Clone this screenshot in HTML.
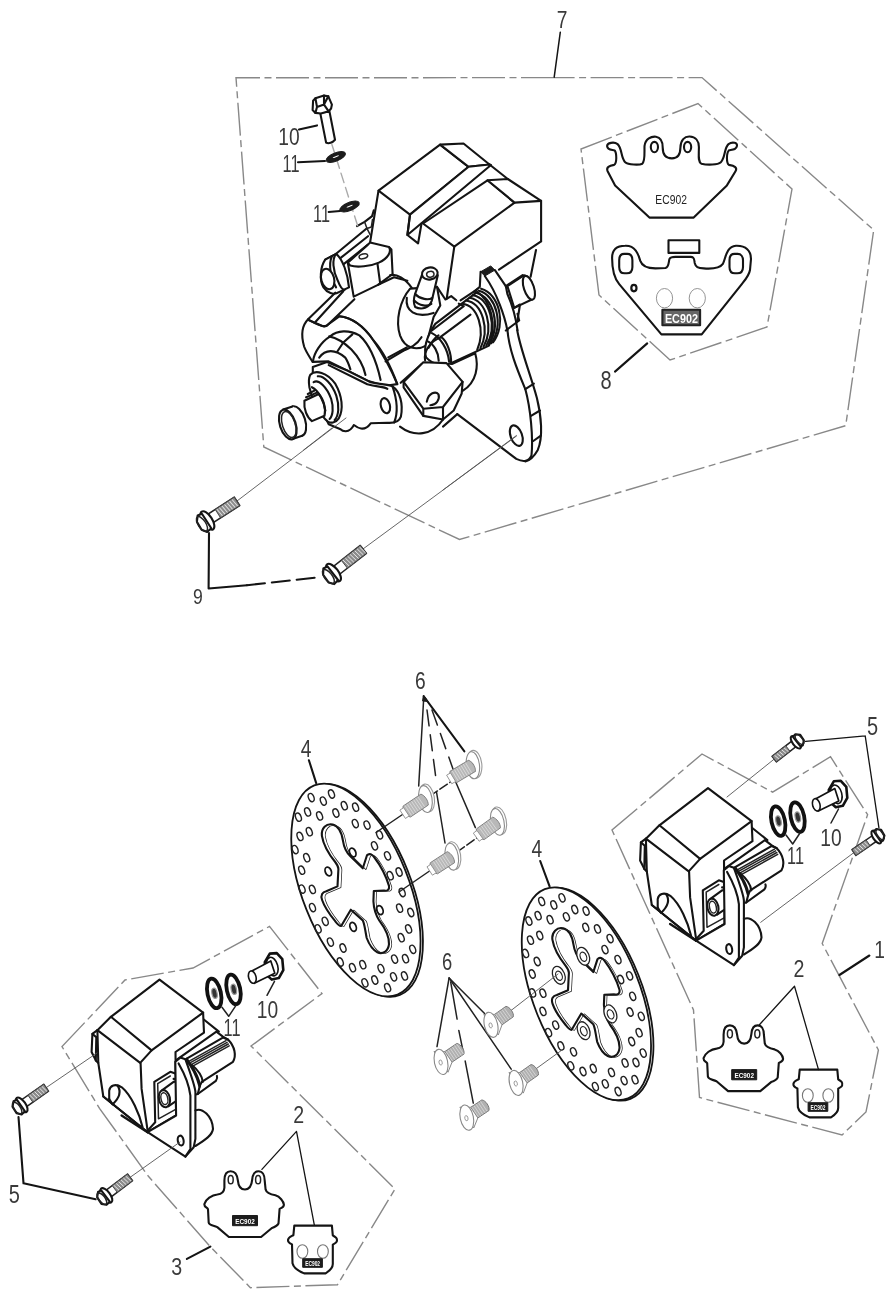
<!DOCTYPE html>
<html><head><meta charset="utf-8"><title>Brake caliper parts diagram</title>
<style>
html,body{margin:0;padding:0;background:#fff}
svg{display:block;filter:blur(0.55px)}
text{font-family:"Liberation Sans",sans-serif;fill:#333}
.n{fill:#3a3a3a}
.s{fill:#222}
.sw{fill:#fff;font-weight:bold}
.k{fill:none;stroke:#141414;stroke-width:2.1;stroke-linejoin:round;stroke-linecap:round}
.kw{fill:#fff;stroke:#141414;stroke-width:2.1;stroke-linejoin:round;stroke-linecap:round}
.m{fill:none;stroke:#222;stroke-width:1.5;stroke-linejoin:round;stroke-linecap:round}
.mw{fill:#fff;stroke:#222;stroke-width:1.5;stroke-linejoin:round;stroke-linecap:round}
.t{fill:none;stroke:#555;stroke-width:0.9;stroke-linejoin:round;stroke-linecap:round}
.tw{fill:#fff;stroke:#555;stroke-width:0.9;stroke-linejoin:round}
.g{fill:none;stroke:#888;stroke-width:0.9}
.gw{fill:#fff;stroke:#888;stroke-width:0.9}
.d{fill:none;stroke:#888;stroke-width:1.4;stroke-dasharray:33 4.5 7 4.5}
.d2{fill:none;stroke:#777;stroke-width:1.1;stroke-dasharray:12 5}
.b{fill:#1c1c1c;stroke:#1c1c1c;stroke-width:1;stroke-linejoin:round}
.w{fill:#fff;stroke:none}
.gr{fill:#999;stroke:none}
</style></head><body>
<svg width="894" height="1300" viewBox="0 0 894 1300">
<rect width="894" height="1300" fill="#fff"/>
<path class="d" d="M554 77.6 L236 77.8 L263.8 447 L459.5 539.5 L845.7 425.7 L873.7 230 L702 77.6 L554 77.6"/>
<path class="d" d="M581 149 L698 103.5 L792 189 L767 327 L670 360 L599 295 Z"/>
<path class="d" d="M62 1046.6 L125 980 L193 968 L269.5 926.4 L322 993.5 L251 1046 L395 1189 L337.5 1284.7 L250.4 1287.7 L210 1246.4 L148.4 1176.3 L99.5 1108.3 Z"/>
<path class="d" d="M612 830 L702 754 L772.6 792.2 L830.5 756.7 L867.6 814.7 L822.2 943.5 L878.4 1050 L866 1112 L842 1135 L699.5 1097.5 L693.5 1010 Z"/>
<text class="n" transform="translate(562 28.2) scale(0.8 1)" font-size="24" text-anchor="middle">7</text>
<text class="n" transform="translate(606 389) scale(0.8 1)" font-size="25" text-anchor="middle">8</text>
<text class="n" transform="translate(198 604) scale(0.8 1)" font-size="22" text-anchor="middle">9</text>
<text class="n" transform="translate(289 144.5) scale(0.8 1)" font-size="24" text-anchor="middle">10</text>
<text class="n" transform="translate(291 172) scale(0.68 1)" font-size="24" text-anchor="middle">11</text>
<text class="n" transform="translate(321.5 222) scale(0.68 1)" font-size="24" text-anchor="middle">11</text>
<text class="n" transform="translate(306 757) scale(0.8 1)" font-size="24" text-anchor="middle">4</text>
<text class="n" transform="translate(536.8 857) scale(0.8 1)" font-size="24" text-anchor="middle">4</text>
<text class="n" transform="translate(420.4 688.8) scale(0.8 1)" font-size="24" text-anchor="middle">6</text>
<text class="n" transform="translate(447.1 969.9) scale(0.8 1)" font-size="23" text-anchor="middle">6</text>
<text class="n" transform="translate(872.5 734.5) scale(0.8 1)" font-size="25" text-anchor="middle">5</text>
<text class="n" transform="translate(14.3 1202.6) scale(0.8 1)" font-size="25" text-anchor="middle">5</text>
<text class="n" transform="translate(879.5 957.7) scale(0.8 1)" font-size="24" text-anchor="middle">1</text>
<text class="n" transform="translate(799 976.5) scale(0.8 1)" font-size="24.5" text-anchor="middle">2</text>
<text class="n" transform="translate(298.8 1122.5) scale(0.8 1)" font-size="24.5" text-anchor="middle">2</text>
<text class="n" transform="translate(176.8 1274.6) scale(0.8 1)" font-size="24.5" text-anchor="middle">3</text>
<text class="n" transform="translate(831 845.5) scale(0.8 1)" font-size="24" text-anchor="middle">10</text>
<text class="n" transform="translate(795.5 864) scale(0.68 1)" font-size="24" text-anchor="middle">11</text>
<text class="n" transform="translate(267.5 1017.6) scale(0.8 1)" font-size="24" text-anchor="middle">10</text>
<text class="n" transform="translate(232 1035.5) scale(0.68 1)" font-size="24" text-anchor="middle">11</text>
<path class="k" d="M560.3 32.2 L554.2 77.2" style="stroke-width:1.5"/>
<path class="kw" d="M378.5 190.7 L440.1 144.6 L468.6 166.8 L410 214.6 Z"/>
<path class="kw" d="M440.1 144.6 L463.5 143.5 L489.5 164.5 L468.6 166.8 Z"/>
<path class="kw" d="M410 214.6 L468.6 166.8 L489.5 164.5 L491 165 L407.4 235 Z"/>
<path class="k" d="M410 214.6 L407.4 235 L418.1 243.4 L421.5 223.6"/>
<path class="kw" d="M423 223.5 L487.5 180.3 L514.6 202.6 L454.3 246.6 Z"/>
<path class="kw" d="M487.5 180.3 L507.8 179 L541.1 200.9 L514.6 202.6 Z"/>
<path class="k" d="M489.5 164.5 L507.8 179"/>
<path class="k" d="M541.1 200.9 L541.1 241.3"/>
<path class="k" d="M378.5 190.7 L370.1 242.4"/>
<path class="k" d="M325.2 259.7 L336.1 253.8 L366.3 228.7"/>
<path class="k" d="M339.4 258.9 L368 236.2"/>
<path class="k" d="M344 263.9 L368 244.6"/>
<path class="k" d="M357 226.1 L364.6 221.9 L372.1 216.1 L373.8 210.2"/>
<path class="m" d="M364.6 221.9 L367.1 228.7 L370.5 235.4 M366.3 228.7 L371.3 227 L372.5 219.4"/>
<path class="kw" d="M325.2 259.7 L336.1 253.8 C342.8 258.9 347.8 274 349 287.4 L338.9 292.1 C333.6 295.8 326.8 292.4 323.5 287.4 C319.3 280.7 320.1 267.2 325.2 259.7 Z"/>
<path class="k" d="M336.1 253.8 C331.9 258.9 332.7 270.6 337.8 280.7 C340.3 287.4 341.9 289.9 344.5 289.9"/>
<path class="k" d="M331.9 256.3 C328.5 263.9 330.2 277.3 336.1 287.4"/>
<ellipse class="kw" cx="327.7" cy="279" rx="6.4" ry="10.4" transform="rotate(-15 327.7 279)"/>
<path class="kw" d="M347.8 262.6 L353.7 296.6 L378 284.9 L392.6 274 L391.4 249.6 L388.9 247.1 Z"/>
<path class="kw" d="M347.8 262.6 L368 244.6 L370.1 242.4 L388.9 247.1 C391.9 251.3 388.1 258.5 378.9 262.6 C370.5 266.4 357 267.6 350.3 265.6 Z"/>
<path class="k" d="M377.5 263.9 L380.2 283.7"/>
<ellipse class="m" cx="363.4" cy="256.3" rx="4.4" ry="2.3" transform="rotate(-15 363.4 256.3)"/>
<path class="k" d="M378 284.9 L394 277.3 L407.4 280.7"/>
<path class="k" d="M308.1 319.3 L335.3 292.7"/>
<path class="k" d="M315.6 321.8 L343.3 291.3"/>
<path class="kw" d="M308.1 319.3 C303.1 324.4 300 332.4 304.1 346.5 C306.1 352.2 310.1 357.6 312.6 361.9 L328.6 361.4 L350.4 372.3 L367.1 380.7 L385.6 385.8 L397.3 384.1 C392.3 370.7 385.6 353.9 373.5 340.5 C365.5 328.7 353.7 317.8 339.3 316.3 L328.2 324.4 C326.9 326.2 324.4 326.5 321.8 325.7 L309.1 320.3 Z"/>
<path class="k" d="M309.1 320.1 C315.1 323.4 320.2 325.9 324.2 326.4 C326.2 326.4 327.2 325.4 328.2 324.4 L354.4 299.2"/>
<path class="k" d="M339.3 316.3 C353.7 317.8 365.5 328.7 373.5 340.5 C383.9 355.6 392.3 372.3 397.3 384.1"/>
<path class="k" d="M313.1 360.6 C314.1 353.6 320.2 342.5 330.2 336.4 C337.3 330.4 348.4 329.4 359.4 335.4 C368.8 343.8 375.5 357.2 380.6 379.9"/>
<path class="k" d="M329.2 336.4 C337.3 338 343.7 342.1 351.4 349.5 C358.8 357.2 363.8 367.3 365.5 374.9"/>
<path class="k" d="M319.2 357.6 C325.2 348.9 335.3 348.9 345.3 357.6 C347.9 361.4 349.5 366.5 350.4 369.3"/>
<path class="k" d="M343.3 342.5 L352.4 334.4 M343.3 342.5 L337.3 351.5"/>
<path class="k" d="M385.6 361.4 L406.6 348.9 M400.7 382.8 L421.7 364"/>
<path class="kw" d="M312.8 367.1 L327 362.1 L347.2 370.5 L370.7 382.2 C379.1 384.7 387.4 383.6 392.5 386.4 C400 391.4 403.4 404 400.9 416.6 C399.2 421.6 395 423.3 387.4 422.8 L370.7 423.3 C364 432.6 357.2 427.5 353.9 425 C348.9 434.2 342.1 430.9 340.5 429.2 L328.7 424.2 C320.3 407.4 311.9 387.2 312.8 367.1 Z"/>
<path class="k" d="M328.7 365.1 L367.3 384.2 C377.4 387.2 384.1 386.4 387.4 388.9"/>
<path class="k" d="M392.5 386.4 C397.5 400.7 397.5 414.1 394.2 422.5"/>
<ellipse class="k" cx="385.4" cy="405.7" rx="4.5" ry="7.7" transform="rotate(-15 385.4 405.7)"/>
<path class="kw" d="M310.3 374.7 C315.3 369.6 327 372.1 335.4 383.9 C342.1 395.6 343.8 409.1 338.8 418.3 C335.4 423.3 330.4 423.3 327.9 421.6 C320.3 415.8 311.9 400.7 309.4 387.2 C308.6 382.2 308.9 377.2 310.3 374.7 Z"/>
<path class="k" d="M317.8 376.3 C323.7 375.5 332.1 383.9 336.3 395.6 C339.6 405.7 338.8 415.8 334.6 420"/>
<path class="k" d="M313.6 382.2 C318.7 378.9 327 387.2 331.2 399 C333.8 407.4 332.9 415.8 329.6 419.1"/>
<path class="kw" d="M304.4 400.7 L318.7 394 C323.7 399 326.2 409.1 324.5 415.8 L311.9 421.1 C306.9 417.4 303.6 409.1 304.4 400.7 Z"/>
<path class="k" d="M311.9 387.2 C318.7 390.6 323.7 400.7 325.4 410.7"/>
<path class="k" d="M307.8 394 L314.5 390.6 M306.1 397.3 C310.3 395.6 313.6 394 317 392.6"/>
<ellipse class="kw" cx="297.3" cy="421.1" rx="7.9" ry="15.4" transform="rotate(-18 297.3 421.1)"/>
<path class="w" d="M284.3 409.9 L293.5 406.5 L301.9 435.9 L292.7 438.9 Z"/>
<path class="k" d="M283.1 409.4 L292.5 406.4 M292.5 438.9 L302.2 435.7"/>
<ellipse class="kw" cx="287.8" cy="424.5" rx="7.9" ry="15.4" transform="rotate(-18 287.8 424.5)"/>
<ellipse class="m" cx="288.8" cy="424.5" rx="6.4" ry="13.4" transform="rotate(-18 288.8 424.5)"/>
<path class="t" d="M332.1 427.9 L303.6 450"/>
<path class="k" d="M454.3 246.6 L446.7 298.7"/>
<path class="k" d="M437 286.9 L445.4 299.5 L451.2 296.1 L456.3 300.3"/>
<path class="kw" d="M410.1 288.6 C400.1 300.3 395 320.5 400.1 335.6 C405.1 349 416.8 350.7 426.1 345.6 L433.6 317.1 L440.3 305.4 L437 286.9 Z"/>
<path class="k" d="M406.8 297.8 C405.1 310.4 415.2 318.8 433.6 312.9"/>
<path class="k" d="M390 275.2 C396.7 273.5 405.1 278.5 411.8 287.8 M388.3 357.4 L406.8 347.3"/>
<path class="kw" d="M421.9 275.2 L415.2 293.6 C413.5 298.7 413.5 303.7 415.2 307 C421.9 310.4 429.4 307.9 431.9 300.3 L437.8 275.2 Z"/>
<ellipse class="kw" cx="429.8" cy="273.5" rx="7.9" ry="6" transform="rotate(-10 429.8 273.5)"/>
<ellipse class="m" cx="430.3" cy="274.3" rx="3.7" ry="2.9" transform="rotate(-10 430.3 274.3)"/>
<path class="k" d="M415.2 294 C420.2 299.5 428.6 300.3 432.3 297.8 M414 300.3 C419.4 306.2 427.8 306.7 431.4 304"/>
<path class="kw" d="M435.3 323.8 L477.2 291.9 C490.7 300.3 497.4 325.5 489 345.6 L452.1 362.8 C445.4 365.8 433.6 365.8 426.1 357.4 C423.6 349 426.1 337.2 435.3 323.8 Z"/>
<path class="k" d="M431.9 330.5 L463.8 306.2 M440.3 337.2 L470.5 314.6"/>
<path class="k" d="M431.9 333.1 C440.3 337.2 447.9 349 449.1 361.6"/>
<path class="k" d="M427.8 341.4 C433.6 344 438.7 352.3 438.7 360.7"/>
<path class="k" d="M462.1 303.7 C478.1 305.4 485.6 330.5 477.2 349.8"/>
<path class="k" d="M466 300.5 C482.4 302.9 490 329.2 480.4 348.2"/>
<path class="k" d="M469.7 297.8 C486.5 300.7 494 328 483.5 346.8"/>
<path class="k" d="M472.9 295.1 C490.2 298.7 497.7 326.8 486.3 345.5"/>
<path class="k" d="M475.9 292.8 C493.5 296.8 501.1 325.8 488.8 344.3"/>
<path class="k" d="M478.8 290.8 C496.5 295.1 504.1 325 491 343.3"/>
<path class="k" d="M481.1 288.8 C499.2 293.6 506.8 324.2 493 342.3"/>
<path class="k" d="M460.5 300.3 L477.2 289.4 M458.8 303.7 L462.1 305.4"/>
<path class="b" d="M480.6 271.8 L490.7 265.9 L494.9 270.1 L484.8 276 Z"/>
<path class="k" d="M480.6 271.8 L479.8 286.9 L473.9 291.9"/>
<path class="k" d="M484.8 276 C497.4 293.6 504.9 317.1 507.4 330.5"/>
<path class="k" d="M494.9 270.1 L505.8 286.1 L507.4 294 C512.5 305.4 515.8 317.1 517.5 330.2"/>
<path class="k" d="M505.8 330.5 L519.2 320.5 L517.5 313.8"/>
<path class="kw" d="M507.4 286.1 L524.2 275.2 C532.6 276.8 536 293.6 531.8 299.5 L514.2 307.9 Z"/>
<ellipse class="kw" cx="528.9" cy="287.8" rx="5" ry="12.4" transform="rotate(-18 528.9 287.8)"/>
<path class="k" d="M505.8 286.1 L522.6 275.2"/>
<path class="k" d="M514.2 307.9 L520 304.5 L517.5 320.5"/>
<path class="k" d="M536 250 L530.6 276.8"/>
<path class="k" d="M541.1 241.3 L499 269.6"/>
<path class="k" d="M507.4 330 C509.2 349.7 516.3 367.6 525.3 389.1 C530.6 408.7 533.3 437.4 531.5 455.3 C528.9 461.5 523.5 462.4 516.3 458.9 L457.3 414.1"/>
<path class="k" d="M517.2 330 C519.9 347.9 530.6 374.7 536.9 398 C541.4 415.9 543.2 437.4 537.8 449.9 C534.2 456.2 528.9 460.6 525.3 461.5"/>
<path class="k" d="M525.3 389.1 L533.9 383.7 M531 415.9 L540 410.5 M533.3 441 L540.9 435.6"/>
<ellipse class="k" cx="516.3" cy="435.6" rx="5.7" ry="10.7" transform="rotate(-20 516.3 435.6)"/>
<path class="t" d="M516.3 435.6 L443 490"/>
<path class="kw" d="M403.6 381.9 L423.3 362.2 L446.5 363.1 L462.6 381.9 L461.7 393.5 L453.7 410.5 L443 419.5 L423.3 415.9 L403.6 387.3 Z"/>
<path class="k" d="M403.6 381.9 L423.3 408.7 L443 407 L462.6 381.9 M443 407 L443 419.5 M423.3 408.7 L423.3 415.9"/>
<path class="k" d="M426.8 401.6 C428.6 392.6 435.8 390.9 438.5 394.4 C440.3 399.8 435.8 405.2 430.4 405.2"/>
<path class="k" d="M451.9 364 L475.2 353.3 C478.7 365.8 477 381.9 462.6 390.9"/>
<path class="k" d="M425.1 360.4 C423.3 351.5 430.4 340.7 441.2 337.2 C446.5 340.7 451.9 353.3 451 364"/>
<path class="k" d="M400 426.6 C414.3 437.4 432.2 435.6 443 419.5 M457.3 414.1 L443 426.6"/>
<path class="k" d="M400 351.5 C407.2 349.7 416.1 346.1 421.5 337.2 M428.6 347.9 C432.2 340.7 435.8 337.2 438.5 335.4"/>
<path class="t" d="M237 501 L346 418"/>
<path class="t" d="M363 549 L516.5 436"/>
<g transform="translate(202.4 523.7) rotate(-32.9)"><path class="mw" d="M7 -5 L41.2 -5 L41.2 5 L7 5 Z"/><path d="M18.5 -5 L41.2 -5 L41.2 5 L18.5 5 Z" fill="#8c8c8c" stroke="#444" stroke-width="0.9"/><path d="M20 -4.2 L21.2 4.2" stroke="#e8e8e8" stroke-width="0.9" fill="none"/><path d="M23 -4.2 L24.2 4.2" stroke="#e8e8e8" stroke-width="0.9" fill="none"/><path d="M26 -4.2 L27.2 4.2" stroke="#e8e8e8" stroke-width="0.9" fill="none"/><path d="M29 -4.2 L30.2 4.2" stroke="#e8e8e8" stroke-width="0.9" fill="none"/><path d="M32 -4.2 L33.2 4.2" stroke="#e8e8e8" stroke-width="0.9" fill="none"/><path d="M35 -4.2 L36.2 4.2" stroke="#e8e8e8" stroke-width="0.9" fill="none"/><path d="M38 -4.2 L39.2 4.2" stroke="#e8e8e8" stroke-width="0.9" fill="none"/><ellipse class="kw" cx="6" cy="0" rx="4.7" ry="10.5"/><path class="kw" d="M5 -8.6 L0.5 -9.5 L-3.5 -4.7 L-4 4.7 L-0.5 9.5 L5 8.6 Z"/><ellipse class="m" cx="-0.5" cy="0" rx="3.8" ry="8.4"/></g>
<g transform="translate(328.8 576.3) rotate(-37.9)"><path class="mw" d="M7 -5 L43.8 -5 L43.8 5 L7 5 Z"/><path d="M19.7 -5 L43.8 -5 L43.8 5 L19.7 5 Z" fill="#8c8c8c" stroke="#444" stroke-width="0.9"/><path d="M21.2 -4.2 L22.4 4.2" stroke="#e8e8e8" stroke-width="0.9" fill="none"/><path d="M24.2 -4.2 L25.4 4.2" stroke="#e8e8e8" stroke-width="0.9" fill="none"/><path d="M27.2 -4.2 L28.4 4.2" stroke="#e8e8e8" stroke-width="0.9" fill="none"/><path d="M30.2 -4.2 L31.4 4.2" stroke="#e8e8e8" stroke-width="0.9" fill="none"/><path d="M33.2 -4.2 L34.4 4.2" stroke="#e8e8e8" stroke-width="0.9" fill="none"/><path d="M36.2 -4.2 L37.4 4.2" stroke="#e8e8e8" stroke-width="0.9" fill="none"/><path d="M39.2 -4.2 L40.4 4.2" stroke="#e8e8e8" stroke-width="0.9" fill="none"/><path d="M42.2 -4.2 L43.4 4.2" stroke="#e8e8e8" stroke-width="0.9" fill="none"/><ellipse class="kw" cx="6" cy="0" rx="4.7" ry="10.5"/><path class="kw" d="M5 -8.6 L0.5 -9.5 L-3.5 -4.7 L-4 4.7 L-0.5 9.5 L5 8.6 Z"/><ellipse class="m" cx="-0.5" cy="0" rx="3.8" ry="8.4"/></g>
<path class="k" d="M209 533 L208.6 588.5 L247 585.2"/>
<path class="k" d="M247 585.2 L321 577" style="stroke-dasharray:18 7"/>
<path class="t" d="M331.9 144.5 L357.7 225.9" style="stroke-dasharray:10 5;stroke:#aaa;stroke-width:1.4"/>
<path class="kw" d="M320.1 112.4 L326.1 142.6 C328.7 144.2 332.6 142.6 335 139.8 L329.5 111.6 Z"/>
<path class="kw" d="M313.1 100.7 L315.4 98.3 L324 95.6 L328.3 96.3 L331.9 104.6 L331.1 108.5 L328.7 111.3 L320.9 113.5 L315.4 112.9 L312.6 110.1 Z"/>
<path class="k" d="M315.4 98.3 L317 106.9 L315.4 112.9 M317 106.9 L324 104.6 L328.7 111.3 M324 95.6 L324 104.6 M328.3 96.3 L324 104.6"/>
<ellipse class="b" cx="335.8" cy="157" rx="10.3" ry="4.1" transform="rotate(-22 335.8 157)"/>
<ellipse class="w" cx="335.8" cy="156.7" rx="3.4" ry="0.5" transform="rotate(-22 335.8 156.7)"/>
<ellipse class="b" cx="349.6" cy="206.5" rx="10.3" ry="4.1" transform="rotate(-22 349.6 206.5)"/>
<ellipse class="w" cx="349.6" cy="206.2" rx="3.4" ry="0.5" transform="rotate(-22 349.6 206.2)"/>
<path class="k" d="M299 129.6 L317 125.4"/>
<path class="k" d="M298 162.3 L325 161"/>
<path class="k" d="M328.7 212 L340 211"/>
<path class="k" d="M607.5 170.9 C606.1 167.3 609.1 165.9 614.1 164.9 C617.1 163.3 616.7 153.2 614.7 150.4 C611.1 149.6 607.5 150.2 607.1 146.1 C607.1 142.7 614.1 141.5 617.6 144.1 C622.2 148.2 620.8 158.2 625.2 162.2 C628.2 164.9 639.3 165.3 642.3 163.7 C645.3 161.2 644.3 153.2 644.5 146.1 C645.3 138.7 651.4 136.1 656 136.7 C661.4 137.5 662.7 143.1 662.7 147.6 C662.7 155.2 666.5 158.4 671.9 158.4 C677.6 158.4 680.4 155.2 680.4 147.6 C680.6 140.1 684.6 136.3 689.6 136.5 C695.7 136.7 698.9 141.1 698.9 147.1 C698.9 155.2 697.7 161.6 701.3 163.7 C707.8 165.3 717.8 164.9 720.8 162.2 C725.5 157.6 723.9 148.2 728.5 144.1 C732.3 141.5 738 142.7 736.9 146.1 C736.3 149.6 732.9 149.6 728.9 150.4 C726.3 153.2 726.3 163.3 728.9 164.9 C734.9 165.9 737.6 167.7 735.5 171.3 L726.9 185.4 L693.7 217.6 L649.4 217.6 L615.1 185.4 Z"/>
<ellipse class="k" cx="654.4" cy="147.1" rx="3.6" ry="5.2"/>
<ellipse class="k" cx="687.6" cy="147.1" rx="3.6" ry="5.2"/>
<text class="s" transform="translate(671.1 203.5) scale(0.86 1)" font-size="12" text-anchor="middle">EC902</text>
<path class="k" d="M612.1 257.9 C612.1 249.8 617.1 245.8 625.2 245.8 C635.3 245.4 638.3 253.9 640.3 260.9 C642.3 266.9 647.3 268.4 655.4 268.4 L665.5 268 C669.1 266.9 668.5 261.9 669.5 258.9 C670.5 256.9 672.5 256.9 675.5 256.9 L690.6 256.9 C694.7 256.9 694.1 259.9 694.7 262.9 C695.7 266.9 697.7 268.4 703.7 268.4 C711.8 269 719.8 268.4 722.9 263.9 C725.9 257.9 725.9 246.8 735.9 245.8 C746 245.4 751 250.8 751 258.9 L750 270 C749 276 745 280 741 285.1 L701.7 334.4 L661.4 334.4 L619.2 284.1 C614.1 278 612.1 270 612.1 257.9 Z"/>
<path class="k" d="M624.2 253.9 L627.2 253.9 C630.8 253.9 632.4 256.9 632.4 260.3 L632.4 266.9 C632.4 271 630.2 273.2 626.8 273.2 L624.6 273.2 C621.2 273.2 619.2 271 619.2 266.9 L619.2 260.3 C619.2 256.9 620.8 253.9 624.2 253.9 Z"/>
<path class="k" d="M734.5 253.9 L737.6 253.9 C741.2 253.9 743 256.9 743 260.3 L743 266.9 C743 271 740.8 273.2 737.3 273.2 L734.9 273.2 C731.5 273.2 729.5 271 729.5 266.9 L729.5 260.3 C729.5 256.9 731.1 253.9 734.5 253.9 Z"/>
<path class="k" d="M668.5 240.2 L699.3 240.2 L699.3 252.9 L668.5 252.9 Z"/>
<ellipse class="k" cx="633.9" cy="288.1" rx="2.6" ry="3.2" style="stroke-width:2.2"/>
<ellipse class="g" cx="664.5" cy="298.2" rx="8.1" ry="9.7"/>
<ellipse class="g" cx="697.3" cy="298.2" rx="8.1" ry="9.7"/>
<path class="k" d="M662.4 309.8 L700.1 309.8 L700.1 325.3 L662.4 325.3 Z" style="fill:#666;stroke:#222"/>
<text class="sw" transform="translate(681.4 323.3) scale(0.8 1)" font-size="13.5" text-anchor="middle">EC902</text>
<path class="k" d="M615 371.6 L647.2 343.4"/>
<g transform="translate(0 0)">
<ellipse class="kw" cx="358.3" cy="890.4" rx="112.6" ry="53.2" transform="rotate(68.3 358.3 890.4)" style="stroke-width:1.8"/>
<ellipse class="kw" cx="355.9" cy="890" rx="112.6" ry="53.2" transform="rotate(68.3 355.9 890)" style="stroke-width:1.8"/>
<ellipse class="m" cx="381" cy="968.6" rx="4.3" ry="2.7" transform="rotate(68.3 381 968.6)" style="stroke-width:1.4"/>
<ellipse class="m" cx="387.6" cy="987.7" rx="4.3" ry="2.7" transform="rotate(68.3 387.6 987.7)" style="stroke-width:1.4"/>
<ellipse class="m" cx="374.8" cy="980" rx="4.3" ry="2.7" transform="rotate(68.3 374.8 980)" style="stroke-width:1.4"/>
<ellipse class="m" cx="362.8" cy="964.7" rx="4.3" ry="2.7" transform="rotate(68.3 362.8 964.7)" style="stroke-width:1.4"/>
<ellipse class="m" cx="364.9" cy="982.8" rx="4.3" ry="2.7" transform="rotate(68.3 364.9 982.8)" style="stroke-width:1.4"/>
<ellipse class="m" cx="352.5" cy="967.7" rx="4.3" ry="2.7" transform="rotate(68.3 352.5 967.7)" style="stroke-width:1.4"/>
<ellipse class="m" cx="343" cy="948" rx="4.3" ry="2.7" transform="rotate(68.3 343 948)" style="stroke-width:1.4"/>
<ellipse class="m" cx="340.3" cy="962" rx="4.3" ry="2.7" transform="rotate(68.3 340.3 962)" style="stroke-width:1.4"/>
<ellipse class="m" cx="330.4" cy="942.1" rx="4.3" ry="2.7" transform="rotate(68.3 330.4 942.1)" style="stroke-width:1.4"/>
<ellipse class="m" cx="325.2" cy="921.3" rx="4.3" ry="2.7" transform="rotate(68.3 325.2 921.3)" style="stroke-width:1.4"/>
<ellipse class="m" cx="318.1" cy="928.8" rx="4.3" ry="2.7" transform="rotate(68.3 318.1 928.8)" style="stroke-width:1.4"/>
<ellipse class="m" cx="312.5" cy="907.6" rx="4.3" ry="2.7" transform="rotate(68.3 312.5 907.6)" style="stroke-width:1.4"/>
<ellipse class="m" cx="312.4" cy="889.4" rx="4.3" ry="2.7" transform="rotate(68.3 312.4 889.4)" style="stroke-width:1.4"/>
<ellipse class="m" cx="302.1" cy="889.1" rx="4.3" ry="2.7" transform="rotate(68.3 302.1 889.1)" style="stroke-width:1.4"/>
<ellipse class="m" cx="301.7" cy="870.2" rx="4.3" ry="2.7" transform="rotate(68.3 301.7 870.2)" style="stroke-width:1.4"/>
<ellipse class="m" cx="306.7" cy="857.7" rx="4.3" ry="2.7" transform="rotate(68.3 306.7 857.7)" style="stroke-width:1.4"/>
<ellipse class="m" cx="295.1" cy="849.6" rx="4.3" ry="2.7" transform="rotate(68.3 295.1 849.6)" style="stroke-width:1.4"/>
<ellipse class="m" cx="300" cy="836.4" rx="4.3" ry="2.7" transform="rotate(68.3 300 836.4)" style="stroke-width:1.4"/>
<ellipse class="m" cx="309.3" cy="831.7" rx="4.3" ry="2.7" transform="rotate(68.3 309.3 831.7)" style="stroke-width:1.4"/>
<ellipse class="m" cx="298.4" cy="817.2" rx="4.3" ry="2.7" transform="rotate(68.3 298.4 817.2)" style="stroke-width:1.4"/>
<ellipse class="m" cx="307.6" cy="811.9" rx="4.3" ry="2.7" transform="rotate(68.3 307.6 811.9)" style="stroke-width:1.4"/>
<ellipse class="m" cx="319.6" cy="815.9" rx="4.3" ry="2.7" transform="rotate(68.3 319.6 815.9)" style="stroke-width:1.4"/>
<ellipse class="m" cx="311.2" cy="797.6" rx="4.3" ry="2.7" transform="rotate(68.3 311.2 797.6)" style="stroke-width:1.4"/>
<ellipse class="m" cx="323.3" cy="801.1" rx="4.3" ry="2.7" transform="rotate(68.3 323.3 801.1)" style="stroke-width:1.4"/>
<ellipse class="m" cx="335.9" cy="813" rx="4.3" ry="2.7" transform="rotate(68.3 335.9 813)" style="stroke-width:1.4"/>
<ellipse class="m" cx="331.5" cy="794" rx="4.3" ry="2.7" transform="rotate(68.3 331.5 794)" style="stroke-width:1.4"/>
<ellipse class="m" cx="344.3" cy="805.7" rx="4.3" ry="2.7" transform="rotate(68.3 344.3 805.7)" style="stroke-width:1.4"/>
<ellipse class="m" cx="355.3" cy="823.6" rx="4.3" ry="2.7" transform="rotate(68.3 355.3 823.6)" style="stroke-width:1.4"/>
<ellipse class="m" cx="355.6" cy="807.2" rx="4.3" ry="2.7" transform="rotate(68.3 355.6 807.2)" style="stroke-width:1.4"/>
<ellipse class="m" cx="367" cy="825.1" rx="4.3" ry="2.7" transform="rotate(68.3 367 825.1)" style="stroke-width:1.4"/>
<ellipse class="m" cx="374.5" cy="845.8" rx="4.3" ry="2.7" transform="rotate(68.3 374.5 845.8)" style="stroke-width:1.4"/>
<ellipse class="m" cx="379.6" cy="834.8" rx="4.3" ry="2.7" transform="rotate(68.3 379.6 834.8)" style="stroke-width:1.4"/>
<ellipse class="m" cx="387.5" cy="855.8" rx="4.3" ry="2.7" transform="rotate(68.3 387.5 855.8)" style="stroke-width:1.4"/>
<ellipse class="m" cx="390.2" cy="875.7" rx="4.3" ry="2.7" transform="rotate(68.3 390.2 875.7)" style="stroke-width:1.4"/>
<ellipse class="m" cx="399.1" cy="872" rx="4.3" ry="2.7" transform="rotate(68.3 399.1 872)" style="stroke-width:1.4"/>
<ellipse class="m" cx="402.2" cy="892.5" rx="4.3" ry="2.7" transform="rotate(68.3 402.2 892.5)" style="stroke-width:1.4"/>
<ellipse class="m" cx="399.6" cy="908.2" rx="4.3" ry="2.7" transform="rotate(68.3 399.6 908.2)" style="stroke-width:1.4"/>
<ellipse class="m" cx="410.8" cy="912.5" rx="4.3" ry="2.7" transform="rotate(68.3 410.8 912.5)" style="stroke-width:1.4"/>
<ellipse class="m" cx="408.6" cy="928.9" rx="4.3" ry="2.7" transform="rotate(68.3 408.6 928.9)" style="stroke-width:1.4"/>
<ellipse class="m" cx="401.2" cy="937.7" rx="4.3" ry="2.7" transform="rotate(68.3 401.2 937.7)" style="stroke-width:1.4"/>
<ellipse class="m" cx="412.7" cy="949.3" rx="4.3" ry="2.7" transform="rotate(68.3 412.7 949.3)" style="stroke-width:1.4"/>
<ellipse class="m" cx="405.5" cy="958.7" rx="4.3" ry="2.7" transform="rotate(68.3 405.5 958.7)" style="stroke-width:1.4"/>
<ellipse class="m" cx="394.6" cy="959.1" rx="4.3" ry="2.7" transform="rotate(68.3 394.6 959.1)" style="stroke-width:1.4"/>
<ellipse class="m" cx="404.5" cy="975.9" rx="4.3" ry="2.7" transform="rotate(68.3 404.5 975.9)" style="stroke-width:1.4"/>
<ellipse class="m" cx="393.6" cy="976.8" rx="4.3" ry="2.7" transform="rotate(68.3 393.6 976.8)" style="stroke-width:1.4"/>
<clipPath id="cut1"><path d="M321.9 835.8 C321 828.4 326.3 823.1 332.7 824.5 C339.3 826.2 341.9 833.7 343 840.8 C344 847.8 347.2 853.1 350.4 856.3 L362.8 868.3 L367 855.3 C369.3 852.8 372.3 854.6 374.1 857 C379.9 864.6 386.1 876.1 389 885.9 C389.7 889.9 387 891.3 384 890.6 L373.8 891 L373.4 901.2 C373.8 909.7 376.9 916.8 379.4 920.7 C384.4 927.4 389.3 936.3 389 944.2 C388.3 951.3 382.6 954.8 377.3 952.2 C372 949.5 368.4 942.5 366.7 938 C364.9 929.2 364.6 923.9 362.8 920.4 L350.8 909.7 L341.2 926 C339.3 926.5 337 923.5 335.2 921.2 C329.5 914.2 324.2 906.2 322.1 900 C320.3 894.7 322.5 892.1 326.3 891.2 L337.5 886.4 L338.4 869.1 C338.4 866.9 336.6 863.8 335.2 862 C329.5 854.9 323.3 844.3 321.9 835.8 Z"/></clipPath>
<path class="kw" d="M321.9 835.8 C321 828.4 326.3 823.1 332.7 824.5 C339.3 826.2 341.9 833.7 343 840.8 C344 847.8 347.2 853.1 350.4 856.3 L362.8 868.3 L367 855.3 C369.3 852.8 372.3 854.6 374.1 857 C379.9 864.6 386.1 876.1 389 885.9 C389.7 889.9 387 891.3 384 890.6 L373.8 891 L373.4 901.2 C373.8 909.7 376.9 916.8 379.4 920.7 C384.4 927.4 389.3 936.3 389 944.2 C388.3 951.3 382.6 954.8 377.3 952.2 C372 949.5 368.4 942.5 366.7 938 C364.9 929.2 364.6 923.9 362.8 920.4 L350.8 909.7 L341.2 926 C339.3 926.5 337 923.5 335.2 921.2 C329.5 914.2 324.2 906.2 322.1 900 C320.3 894.7 322.5 892.1 326.3 891.2 L337.5 886.4 L338.4 869.1 C338.4 866.9 336.6 863.8 335.2 862 C329.5 854.9 323.3 844.3 321.9 835.8 Z"/>
<path class="m" d="M321.9 835.8 C321 828.4 326.3 823.1 332.7 824.5 C339.3 826.2 341.9 833.7 343 840.8 C344 847.8 347.2 853.1 350.4 856.3 L362.8 868.3 L367 855.3 C369.3 852.8 372.3 854.6 374.1 857 C379.9 864.6 386.1 876.1 389 885.9 C389.7 889.9 387 891.3 384 890.6 L373.8 891 L373.4 901.2 C373.8 909.7 376.9 916.8 379.4 920.7 C384.4 927.4 389.3 936.3 389 944.2 C388.3 951.3 382.6 954.8 377.3 952.2 C372 949.5 368.4 942.5 366.7 938 C364.9 929.2 364.6 923.9 362.8 920.4 L350.8 909.7 L341.2 926 C339.3 926.5 337 923.5 335.2 921.2 C329.5 914.2 324.2 906.2 322.1 900 C320.3 894.7 322.5 892.1 326.3 891.2 L337.5 886.4 L338.4 869.1 C338.4 866.9 336.6 863.8 335.2 862 C329.5 854.9 323.3 844.3 321.9 835.8 Z" transform="translate(3.1 0.8)" clip-path="url(#cut1)"/>
<ellipse class="k" cx="353.1" cy="926.9" rx="4.6" ry="3" transform="rotate(68.3 353.1 926.9)" style="stroke-width:1.8"/>
<ellipse class="k" cx="328.3" cy="871.5" rx="4.6" ry="3" transform="rotate(68.3 328.3 871.5)" style="stroke-width:1.8"/>
<ellipse class="k" cx="352.7" cy="852.5" rx="4.6" ry="3" transform="rotate(68.3 352.7 852.5)" style="stroke-width:1.8"/>
<ellipse class="k" cx="379.9" cy="910.1" rx="4.6" ry="3" transform="rotate(68.3 379.9 910.1)" style="stroke-width:1.8"/>
</g>
<g transform="translate(230.5 103.8)">
<ellipse class="kw" cx="358.3" cy="890.4" rx="112.6" ry="53.2" transform="rotate(68.3 358.3 890.4)" style="stroke-width:1.8"/>
<ellipse class="kw" cx="355.9" cy="890" rx="112.6" ry="53.2" transform="rotate(68.3 355.9 890)" style="stroke-width:1.8"/>
<ellipse class="m" cx="381" cy="968.6" rx="4.3" ry="2.7" transform="rotate(68.3 381 968.6)" style="stroke-width:1.4"/>
<ellipse class="m" cx="387.6" cy="987.7" rx="4.3" ry="2.7" transform="rotate(68.3 387.6 987.7)" style="stroke-width:1.4"/>
<ellipse class="m" cx="374.8" cy="980" rx="4.3" ry="2.7" transform="rotate(68.3 374.8 980)" style="stroke-width:1.4"/>
<ellipse class="m" cx="362.8" cy="964.7" rx="4.3" ry="2.7" transform="rotate(68.3 362.8 964.7)" style="stroke-width:1.4"/>
<ellipse class="m" cx="364.9" cy="982.8" rx="4.3" ry="2.7" transform="rotate(68.3 364.9 982.8)" style="stroke-width:1.4"/>
<ellipse class="m" cx="352.5" cy="967.7" rx="4.3" ry="2.7" transform="rotate(68.3 352.5 967.7)" style="stroke-width:1.4"/>
<ellipse class="m" cx="343" cy="948" rx="4.3" ry="2.7" transform="rotate(68.3 343 948)" style="stroke-width:1.4"/>
<ellipse class="m" cx="340.3" cy="962" rx="4.3" ry="2.7" transform="rotate(68.3 340.3 962)" style="stroke-width:1.4"/>
<ellipse class="m" cx="330.4" cy="942.1" rx="4.3" ry="2.7" transform="rotate(68.3 330.4 942.1)" style="stroke-width:1.4"/>
<ellipse class="m" cx="325.2" cy="921.3" rx="4.3" ry="2.7" transform="rotate(68.3 325.2 921.3)" style="stroke-width:1.4"/>
<ellipse class="m" cx="318.1" cy="928.8" rx="4.3" ry="2.7" transform="rotate(68.3 318.1 928.8)" style="stroke-width:1.4"/>
<ellipse class="m" cx="312.5" cy="907.6" rx="4.3" ry="2.7" transform="rotate(68.3 312.5 907.6)" style="stroke-width:1.4"/>
<ellipse class="m" cx="312.4" cy="889.4" rx="4.3" ry="2.7" transform="rotate(68.3 312.4 889.4)" style="stroke-width:1.4"/>
<ellipse class="m" cx="302.1" cy="889.1" rx="4.3" ry="2.7" transform="rotate(68.3 302.1 889.1)" style="stroke-width:1.4"/>
<ellipse class="m" cx="301.7" cy="870.2" rx="4.3" ry="2.7" transform="rotate(68.3 301.7 870.2)" style="stroke-width:1.4"/>
<ellipse class="m" cx="306.7" cy="857.7" rx="4.3" ry="2.7" transform="rotate(68.3 306.7 857.7)" style="stroke-width:1.4"/>
<ellipse class="m" cx="295.1" cy="849.6" rx="4.3" ry="2.7" transform="rotate(68.3 295.1 849.6)" style="stroke-width:1.4"/>
<ellipse class="m" cx="300" cy="836.4" rx="4.3" ry="2.7" transform="rotate(68.3 300 836.4)" style="stroke-width:1.4"/>
<ellipse class="m" cx="309.3" cy="831.7" rx="4.3" ry="2.7" transform="rotate(68.3 309.3 831.7)" style="stroke-width:1.4"/>
<ellipse class="m" cx="298.4" cy="817.2" rx="4.3" ry="2.7" transform="rotate(68.3 298.4 817.2)" style="stroke-width:1.4"/>
<ellipse class="m" cx="307.6" cy="811.9" rx="4.3" ry="2.7" transform="rotate(68.3 307.6 811.9)" style="stroke-width:1.4"/>
<ellipse class="m" cx="319.6" cy="815.9" rx="4.3" ry="2.7" transform="rotate(68.3 319.6 815.9)" style="stroke-width:1.4"/>
<ellipse class="m" cx="311.2" cy="797.6" rx="4.3" ry="2.7" transform="rotate(68.3 311.2 797.6)" style="stroke-width:1.4"/>
<ellipse class="m" cx="323.3" cy="801.1" rx="4.3" ry="2.7" transform="rotate(68.3 323.3 801.1)" style="stroke-width:1.4"/>
<ellipse class="m" cx="335.9" cy="813" rx="4.3" ry="2.7" transform="rotate(68.3 335.9 813)" style="stroke-width:1.4"/>
<ellipse class="m" cx="331.5" cy="794" rx="4.3" ry="2.7" transform="rotate(68.3 331.5 794)" style="stroke-width:1.4"/>
<ellipse class="m" cx="344.3" cy="805.7" rx="4.3" ry="2.7" transform="rotate(68.3 344.3 805.7)" style="stroke-width:1.4"/>
<ellipse class="m" cx="355.3" cy="823.6" rx="4.3" ry="2.7" transform="rotate(68.3 355.3 823.6)" style="stroke-width:1.4"/>
<ellipse class="m" cx="355.6" cy="807.2" rx="4.3" ry="2.7" transform="rotate(68.3 355.6 807.2)" style="stroke-width:1.4"/>
<ellipse class="m" cx="367" cy="825.1" rx="4.3" ry="2.7" transform="rotate(68.3 367 825.1)" style="stroke-width:1.4"/>
<ellipse class="m" cx="374.5" cy="845.8" rx="4.3" ry="2.7" transform="rotate(68.3 374.5 845.8)" style="stroke-width:1.4"/>
<ellipse class="m" cx="379.6" cy="834.8" rx="4.3" ry="2.7" transform="rotate(68.3 379.6 834.8)" style="stroke-width:1.4"/>
<ellipse class="m" cx="387.5" cy="855.8" rx="4.3" ry="2.7" transform="rotate(68.3 387.5 855.8)" style="stroke-width:1.4"/>
<ellipse class="m" cx="390.2" cy="875.7" rx="4.3" ry="2.7" transform="rotate(68.3 390.2 875.7)" style="stroke-width:1.4"/>
<ellipse class="m" cx="399.1" cy="872" rx="4.3" ry="2.7" transform="rotate(68.3 399.1 872)" style="stroke-width:1.4"/>
<ellipse class="m" cx="402.2" cy="892.5" rx="4.3" ry="2.7" transform="rotate(68.3 402.2 892.5)" style="stroke-width:1.4"/>
<ellipse class="m" cx="399.6" cy="908.2" rx="4.3" ry="2.7" transform="rotate(68.3 399.6 908.2)" style="stroke-width:1.4"/>
<ellipse class="m" cx="410.8" cy="912.5" rx="4.3" ry="2.7" transform="rotate(68.3 410.8 912.5)" style="stroke-width:1.4"/>
<ellipse class="m" cx="408.6" cy="928.9" rx="4.3" ry="2.7" transform="rotate(68.3 408.6 928.9)" style="stroke-width:1.4"/>
<ellipse class="m" cx="401.2" cy="937.7" rx="4.3" ry="2.7" transform="rotate(68.3 401.2 937.7)" style="stroke-width:1.4"/>
<ellipse class="m" cx="412.7" cy="949.3" rx="4.3" ry="2.7" transform="rotate(68.3 412.7 949.3)" style="stroke-width:1.4"/>
<ellipse class="m" cx="405.5" cy="958.7" rx="4.3" ry="2.7" transform="rotate(68.3 405.5 958.7)" style="stroke-width:1.4"/>
<ellipse class="m" cx="394.6" cy="959.1" rx="4.3" ry="2.7" transform="rotate(68.3 394.6 959.1)" style="stroke-width:1.4"/>
<ellipse class="m" cx="404.5" cy="975.9" rx="4.3" ry="2.7" transform="rotate(68.3 404.5 975.9)" style="stroke-width:1.4"/>
<ellipse class="m" cx="393.6" cy="976.8" rx="4.3" ry="2.7" transform="rotate(68.3 393.6 976.8)" style="stroke-width:1.4"/>
<clipPath id="cut2"><path d="M321.9 835.8 C321 828.4 326.3 823.1 332.7 824.5 C339.3 826.2 341.9 833.7 343 840.8 C344 847.8 347.2 853.1 350.4 856.3 L362.8 868.3 L367 855.3 C369.3 852.8 372.3 854.6 374.1 857 C379.9 864.6 386.1 876.1 389 885.9 C389.7 889.9 387 891.3 384 890.6 L373.8 891 L373.4 901.2 C373.8 909.7 376.9 916.8 379.4 920.7 C384.4 927.4 389.3 936.3 389 944.2 C388.3 951.3 382.6 954.8 377.3 952.2 C372 949.5 368.4 942.5 366.7 938 C364.9 929.2 364.6 923.9 362.8 920.4 L350.8 909.7 L341.2 926 C339.3 926.5 337 923.5 335.2 921.2 C329.5 914.2 324.2 906.2 322.1 900 C320.3 894.7 322.5 892.1 326.3 891.2 L337.5 886.4 L338.4 869.1 C338.4 866.9 336.6 863.8 335.2 862 C329.5 854.9 323.3 844.3 321.9 835.8 Z"/></clipPath>
<path class="kw" d="M321.9 835.8 C321 828.4 326.3 823.1 332.7 824.5 C339.3 826.2 341.9 833.7 343 840.8 C344 847.8 347.2 853.1 350.4 856.3 L362.8 868.3 L367 855.3 C369.3 852.8 372.3 854.6 374.1 857 C379.9 864.6 386.1 876.1 389 885.9 C389.7 889.9 387 891.3 384 890.6 L373.8 891 L373.4 901.2 C373.8 909.7 376.9 916.8 379.4 920.7 C384.4 927.4 389.3 936.3 389 944.2 C388.3 951.3 382.6 954.8 377.3 952.2 C372 949.5 368.4 942.5 366.7 938 C364.9 929.2 364.6 923.9 362.8 920.4 L350.8 909.7 L341.2 926 C339.3 926.5 337 923.5 335.2 921.2 C329.5 914.2 324.2 906.2 322.1 900 C320.3 894.7 322.5 892.1 326.3 891.2 L337.5 886.4 L338.4 869.1 C338.4 866.9 336.6 863.8 335.2 862 C329.5 854.9 323.3 844.3 321.9 835.8 Z"/>
<path class="m" d="M321.9 835.8 C321 828.4 326.3 823.1 332.7 824.5 C339.3 826.2 341.9 833.7 343 840.8 C344 847.8 347.2 853.1 350.4 856.3 L362.8 868.3 L367 855.3 C369.3 852.8 372.3 854.6 374.1 857 C379.9 864.6 386.1 876.1 389 885.9 C389.7 889.9 387 891.3 384 890.6 L373.8 891 L373.4 901.2 C373.8 909.7 376.9 916.8 379.4 920.7 C384.4 927.4 389.3 936.3 389 944.2 C388.3 951.3 382.6 954.8 377.3 952.2 C372 949.5 368.4 942.5 366.7 938 C364.9 929.2 364.6 923.9 362.8 920.4 L350.8 909.7 L341.2 926 C339.3 926.5 337 923.5 335.2 921.2 C329.5 914.2 324.2 906.2 322.1 900 C320.3 894.7 322.5 892.1 326.3 891.2 L337.5 886.4 L338.4 869.1 C338.4 866.9 336.6 863.8 335.2 862 C329.5 854.9 323.3 844.3 321.9 835.8 Z" transform="translate(3.1 0.8)" clip-path="url(#cut2)"/>
<ellipse class="mw" cx="353.1" cy="926.9" rx="9.3" ry="5.9" transform="rotate(68.3 353.1 926.9)" style="stroke-width:1.3"/>
<ellipse class="m" cx="353.6" cy="926.9" rx="4.8" ry="3.1" transform="rotate(68.3 353.1 926.9)" style="stroke-width:1.2"/>
<ellipse class="mw" cx="328.3" cy="871.5" rx="9.3" ry="5.9" transform="rotate(68.3 328.3 871.5)" style="stroke-width:1.3"/>
<ellipse class="m" cx="328.8" cy="871.5" rx="4.8" ry="3.1" transform="rotate(68.3 328.3 871.5)" style="stroke-width:1.2"/>
<ellipse class="mw" cx="352.7" cy="852.5" rx="9.3" ry="5.9" transform="rotate(68.3 352.7 852.5)" style="stroke-width:1.3"/>
<ellipse class="m" cx="353.2" cy="852.5" rx="4.8" ry="3.1" transform="rotate(68.3 352.7 852.5)" style="stroke-width:1.2"/>
<ellipse class="mw" cx="379.9" cy="910.1" rx="9.3" ry="5.9" transform="rotate(68.3 379.9 910.1)" style="stroke-width:1.3"/>
<ellipse class="m" cx="380.4" cy="910.1" rx="4.8" ry="3.1" transform="rotate(68.3 379.9 910.1)" style="stroke-width:1.2"/>
</g>
<path class="k" d="M308.9 760.3 L316.2 783.1"/>
<path class="k" d="M540.2 861 L549.6 886.4"/>
<path class="m" d="M404 813.5 L376 832.5"/>
<path class="m" d="M431 870 L399 892"/>
<path class="m" d="M430 796 L452 781" style="stroke-dasharray:9 3"/>
<path class="m" d="M457 852 L478 837" style="stroke-dasharray:9 3"/>
<path class="m" d="M423.8 696.4 L418.7 786"/>
<path class="k" d="M423.8 696.4 L464.4 751.4" style="stroke-width:2"/>
<path class="m" d="M427 710 L436 779" style="stroke-dasharray:16 9"/>
<path class="m" d="M436.5 792 L445 843"/>
<path class="m" d="M432 710 L453 769" style="stroke-dasharray:16 9"/>
<path class="m" d="M454 778 L475.4 827.6"/>
<path class="b" d="M423.4 695 L422.6 701 L428 701.5 Z"/>
<g transform="translate(472 765.8) rotate(149)"><ellipse cx="-3" cy="0" rx="7.2" ry="14" fill="#fff" stroke="#9a9a9a" stroke-width="1.1" transform="rotate(24 -3 0)"/><ellipse cx="-1" cy="0" rx="6.6" ry="13.6" fill="#fff" stroke="#8a8a8a" stroke-width="1.1" transform="rotate(24 -1 0)"/><path d="M0 -6.6 L21.6 -6.6 C24.6 -4 24.6 4 21.6 6.6 L0 6.6 C-2.5 3 -2.5 -3 0 -6.6 Z" fill="#b8b8b8" stroke="#808080" stroke-width="0.9"/><path d="M22.1 -5 L26.6 -5 L26.6 5 L22.1 5 Z" fill="#fff" stroke="#8a8a8a" stroke-width="0.8"/><path d="M4 -6 L4 6" stroke="#dcdcdc" stroke-width="0.8"/><path d="M6.6 -6 L6.6 6" stroke="#dcdcdc" stroke-width="0.8"/><path d="M9.2 -6 L9.2 6" stroke="#dcdcdc" stroke-width="0.8"/><path d="M11.8 -6 L11.8 6" stroke="#dcdcdc" stroke-width="0.8"/><path d="M14.4 -6 L14.4 6" stroke="#dcdcdc" stroke-width="0.8"/><path d="M17 -6 L17 6" stroke="#dcdcdc" stroke-width="0.8"/><path d="M19.6 -6 L19.6 6" stroke="#dcdcdc" stroke-width="0.8"/></g>
<g transform="translate(424.6 799.6) rotate(146.2)"><ellipse cx="-3" cy="0" rx="7.2" ry="14" fill="#fff" stroke="#9a9a9a" stroke-width="1.1" transform="rotate(24 -3 0)"/><ellipse cx="-1" cy="0" rx="6.6" ry="13.6" fill="#fff" stroke="#8a8a8a" stroke-width="1.1" transform="rotate(24 -1 0)"/><path d="M0 -6.6 L21.4 -6.6 C24.4 -4 24.4 4 21.4 6.6 L0 6.6 C-2.5 3 -2.5 -3 0 -6.6 Z" fill="#b8b8b8" stroke="#808080" stroke-width="0.9"/><path d="M21.9 -5 L26.4 -5 L26.4 5 L21.9 5 Z" fill="#fff" stroke="#8a8a8a" stroke-width="0.8"/><path d="M4 -6 L4 6" stroke="#dcdcdc" stroke-width="0.8"/><path d="M6.6 -6 L6.6 6" stroke="#dcdcdc" stroke-width="0.8"/><path d="M9.2 -6 L9.2 6" stroke="#dcdcdc" stroke-width="0.8"/><path d="M11.8 -6 L11.8 6" stroke="#dcdcdc" stroke-width="0.8"/><path d="M14.4 -6 L14.4 6" stroke="#dcdcdc" stroke-width="0.8"/><path d="M17 -6 L17 6" stroke="#dcdcdc" stroke-width="0.8"/><path d="M19.6 -6 L19.6 6" stroke="#dcdcdc" stroke-width="0.8"/></g>
<g transform="translate(496.6 822.5) rotate(144.2)"><ellipse cx="-3" cy="0" rx="7.2" ry="14" fill="#fff" stroke="#9a9a9a" stroke-width="1.1" transform="rotate(24 -3 0)"/><ellipse cx="-1" cy="0" rx="6.6" ry="13.6" fill="#fff" stroke="#8a8a8a" stroke-width="1.1" transform="rotate(24 -1 0)"/><path d="M0 -6.6 L20.1 -6.6 C23.1 -4 23.1 4 20.1 6.6 L0 6.6 C-2.5 3 -2.5 -3 0 -6.6 Z" fill="#b8b8b8" stroke="#808080" stroke-width="0.9"/><path d="M20.6 -5 L25.1 -5 L25.1 5 L20.6 5 Z" fill="#fff" stroke="#8a8a8a" stroke-width="0.8"/><path d="M4 -6 L4 6" stroke="#dcdcdc" stroke-width="0.8"/><path d="M6.6 -6 L6.6 6" stroke="#dcdcdc" stroke-width="0.8"/><path d="M9.2 -6 L9.2 6" stroke="#dcdcdc" stroke-width="0.8"/><path d="M11.8 -6 L11.8 6" stroke="#dcdcdc" stroke-width="0.8"/><path d="M14.4 -6 L14.4 6" stroke="#dcdcdc" stroke-width="0.8"/><path d="M17 -6 L17 6" stroke="#dcdcdc" stroke-width="0.8"/></g>
<g transform="translate(450.9 857.2) rotate(146.9)"><ellipse cx="-3" cy="0" rx="7.2" ry="14" fill="#fff" stroke="#9a9a9a" stroke-width="1.1" transform="rotate(24 -3 0)"/><ellipse cx="-1" cy="0" rx="6.6" ry="13.6" fill="#fff" stroke="#8a8a8a" stroke-width="1.1" transform="rotate(24 -1 0)"/><path d="M0 -6.6 L20.3 -6.6 C23.3 -4 23.3 4 20.3 6.6 L0 6.6 C-2.5 3 -2.5 -3 0 -6.6 Z" fill="#b8b8b8" stroke="#808080" stroke-width="0.9"/><path d="M20.8 -5 L25.3 -5 L25.3 5 L20.8 5 Z" fill="#fff" stroke="#8a8a8a" stroke-width="0.8"/><path d="M4 -6 L4 6" stroke="#dcdcdc" stroke-width="0.8"/><path d="M6.6 -6 L6.6 6" stroke="#dcdcdc" stroke-width="0.8"/><path d="M9.2 -6 L9.2 6" stroke="#dcdcdc" stroke-width="0.8"/><path d="M11.8 -6 L11.8 6" stroke="#dcdcdc" stroke-width="0.8"/><path d="M14.4 -6 L14.4 6" stroke="#dcdcdc" stroke-width="0.8"/><path d="M17 -6 L17 6" stroke="#dcdcdc" stroke-width="0.8"/></g>
<path class="t" d="M510.4 1011 L558 974"/>
<path class="t" d="M535.5 1069.2 L562 1050"/>
<path class="m" d="M449.1 978 L437 1046.6"/>
<path class="m" d="M449.1 978 L484.6 1013.5"/>
<path class="m" d="M449.1 978 L511.2 1069.2"/>
<path class="m" d="M450.7 982 L457.1 1019.1 M458.8 1030.4 L462.8 1049.8 M465.2 1061.1 L473.3 1103.1"/>
<g transform="translate(491 1024.8) rotate(-35.4)"><path d="M8 -6.4 L22.8 -6.4 C25.8 -4 25.8 4 22.8 6.4 L8 6.4 Z" fill="#b0b0b0" stroke="#777" stroke-width="0.9"/><path d="M10 -6 L10 6" stroke="#d8d8d8" stroke-width="0.8"/><path d="M12.6 -6 L12.6 6" stroke="#d8d8d8" stroke-width="0.8"/><path d="M15.2 -6 L15.2 6" stroke="#d8d8d8" stroke-width="0.8"/><path d="M17.8 -6 L17.8 6" stroke="#d8d8d8" stroke-width="0.8"/><path d="M20.4 -6 L20.4 6" stroke="#d8d8d8" stroke-width="0.8"/><path d="M0 -12.5 L9 -6.4 L9 6.4 L0 12.5 Z" fill="#fff" stroke="#888" stroke-width="0.9"/><ellipse cx="0" cy="0" rx="6.6" ry="12.8" fill="#fff" stroke="#888" stroke-width="1.1" transform="rotate(22 0 0)"/><ellipse cx="-0.5" cy="0.5" rx="1.6" ry="2.6" fill="none" stroke="#999" stroke-width="0.9" transform="rotate(22 0 0)"/></g>
<g transform="translate(441 1061.9) rotate(-34.1)"><path d="M8 -6.4 L23.4 -6.4 C26.4 -4 26.4 4 23.4 6.4 L8 6.4 Z" fill="#b0b0b0" stroke="#777" stroke-width="0.9"/><path d="M10 -6 L10 6" stroke="#d8d8d8" stroke-width="0.8"/><path d="M12.6 -6 L12.6 6" stroke="#d8d8d8" stroke-width="0.8"/><path d="M15.2 -6 L15.2 6" stroke="#d8d8d8" stroke-width="0.8"/><path d="M17.8 -6 L17.8 6" stroke="#d8d8d8" stroke-width="0.8"/><path d="M20.4 -6 L20.4 6" stroke="#d8d8d8" stroke-width="0.8"/><path d="M23 -6 L23 6" stroke="#d8d8d8" stroke-width="0.8"/><path d="M0 -12.5 L9 -6.4 L9 6.4 L0 12.5 Z" fill="#fff" stroke="#888" stroke-width="0.9"/><ellipse cx="0" cy="0" rx="6.6" ry="12.8" fill="#fff" stroke="#888" stroke-width="1.1" transform="rotate(22 0 0)"/><ellipse cx="-0.5" cy="0.5" rx="1.6" ry="2.6" fill="none" stroke="#999" stroke-width="0.9" transform="rotate(22 0 0)"/></g>
<g transform="translate(516.1 1082.9) rotate(-35.2)"><path d="M8 -6.4 L22.7 -6.4 C25.7 -4 25.7 4 22.7 6.4 L8 6.4 Z" fill="#b0b0b0" stroke="#777" stroke-width="0.9"/><path d="M10 -6 L10 6" stroke="#d8d8d8" stroke-width="0.8"/><path d="M12.6 -6 L12.6 6" stroke="#d8d8d8" stroke-width="0.8"/><path d="M15.2 -6 L15.2 6" stroke="#d8d8d8" stroke-width="0.8"/><path d="M17.8 -6 L17.8 6" stroke="#d8d8d8" stroke-width="0.8"/><path d="M20.4 -6 L20.4 6" stroke="#d8d8d8" stroke-width="0.8"/><path d="M0 -12.5 L9 -6.4 L9 6.4 L0 12.5 Z" fill="#fff" stroke="#888" stroke-width="0.9"/><ellipse cx="0" cy="0" rx="6.6" ry="12.8" fill="#fff" stroke="#888" stroke-width="1.1" transform="rotate(22 0 0)"/><ellipse cx="-0.5" cy="0.5" rx="1.6" ry="2.6" fill="none" stroke="#999" stroke-width="0.9" transform="rotate(22 0 0)"/></g>
<g transform="translate(466.8 1117.6) rotate(-33.6)"><path d="M8 -6.4 L22.3 -6.4 C25.3 -4 25.3 4 22.3 6.4 L8 6.4 Z" fill="#b0b0b0" stroke="#777" stroke-width="0.9"/><path d="M10 -6 L10 6" stroke="#d8d8d8" stroke-width="0.8"/><path d="M12.6 -6 L12.6 6" stroke="#d8d8d8" stroke-width="0.8"/><path d="M15.2 -6 L15.2 6" stroke="#d8d8d8" stroke-width="0.8"/><path d="M17.8 -6 L17.8 6" stroke="#d8d8d8" stroke-width="0.8"/><path d="M20.4 -6 L20.4 6" stroke="#d8d8d8" stroke-width="0.8"/><path d="M0 -12.5 L9 -6.4 L9 6.4 L0 12.5 Z" fill="#fff" stroke="#888" stroke-width="0.9"/><ellipse cx="0" cy="0" rx="6.6" ry="12.8" fill="#fff" stroke="#888" stroke-width="1.1" transform="rotate(22 0 0)"/><ellipse cx="-0.5" cy="0.5" rx="1.6" ry="2.6" fill="none" stroke="#999" stroke-width="0.9" transform="rotate(22 0 0)"/></g>
<g transform="translate(0 0)"><path class="k" d="M752.3 828 L767.4 840.1"/>
<path class="kw" d="M725 868.3 L764.9 840.1 L771.4 845.1 L776.5 848.1 C783.5 855.2 785 864.2 781.5 870.3 L750.3 890.4 L748.3 894.4 L746.3 902.5 L739.1 904.2 Z"/>
<path class="k" d="M735.2 867.2 L771.4 846.1 L776.5 848.1"/>
<path class="m" d="M738.2 869.3 L774.5 849.1 M739.4 870.9 L775.6 850.8 M740.6 872.6 L776.8 852.5 M741.7 874.3 L777.7 854.3"/>
<path class="k" d="M735.2 867.2 C743.3 877.3 748.3 889.4 748.3 894.4"/>
<path class="k" d="M740.2 873.3 C747.3 879.3 750.8 885.7 751.3 890.4"/>
<path class="k" d="M746.3 902.5 L764.4 889.4 C765.9 887.4 765.9 885.7 765.4 884.4"/>
<path class="kw" d="M659.4 825.3 L708 788.1 L751.6 821.1 L752.5 841.2 L724 860.5 L724.6 924 L696.1 940.7 L651.8 905 L646.8 871.4 L644.3 868.9 L640.1 860.5 L640.9 842.4 L645.9 838.7 Z"/>
<path class="k" d="M659.4 825.3 L700.1 858.9 L751.6 821.1"/>
<path class="k" d="M645.9 838.7 L688.7 871.4 L700.1 858.9"/>
<path class="k" d="M645.9 838.7 L646.8 871.4 M640.9 842.4 L644.8 845.8 L644.3 868.9"/>
<path class="k" d="M689.1 871.9 L690.1 897.4 L696.1 939.1"/>
<path class="k" d="M651.8 905 L696.1 940.7"/>
<path class="k" d="M670.1 924 L696.1 940.7" style="stroke-width:2.4"/>
<path class="k" d="M657.7 907.5 L657.7 899.1 C658.5 894.1 663.6 891.6 670.3 895.8 C680.3 904.2 687.9 922.6 691.1 935.7"/>
<path class="k" d="M666.1 894.1 C669.4 899.1 668.6 905.8 661 912.9 L657.7 907.5"/>
<path class="k" d="M702.8 890.4 L718.8 880.3 L723.8 882 M702.8 890.4 L703.7 930.7 L696.1 939.1"/>
<path class="m" d="M706.2 892.1 L718.8 884.5 M706.2 892.1 L707 927.3 L724.6 917.6"/>
<path class="kw" d="M710.4 898.8 L722.1 890.4 C729 889.1 732.3 897.4 730.5 905.5 L717.1 914.7 Z"/>
<ellipse class="kw" cx="712.9" cy="907.2" rx="5.5" ry="8.7" transform="rotate(-12 712.9 907.2)"/>
<ellipse class="m" cx="712.9" cy="907.2" rx="3.4" ry="6" transform="rotate(-12 712.9 907.2)"/>
<path class="k" d="M722.1 887.4 C728.2 887.4 732.3 895.8 730.7 904.2"/>
<path class="kw" d="M723.8 870.3 L728.8 866.1 L733.9 867.8 C739.7 883.7 743.9 897.1 743.9 900.8 L743.9 947.4 L742.2 955.8 L733.9 965.1 L696.1 940.7 L724.6 924 Z"/>
<path class="k" d="M727.1 871.9 C733.9 883.7 738.1 897.1 738.9 904.2 L738.9 957.5 L733.9 965.1"/>
<path class="k" d="M733.9 867.8 C740.6 875.3 745.6 885.4 748.1 895.4"/>
<ellipse class="k" cx="729.2" cy="949.1" rx="2.9" ry="5" transform="rotate(-10 729.2 949.1)"/>
<path class="k" d="M743.9 918.9 C750.6 915.9 760.7 924.3 761.5 937.4 C760.9 943.6 754 948.6 743.9 954.5"/></g>
<g transform="translate(-548.5 191.5)"><path class="k" d="M752.3 828 L767.4 840.1"/>
<path class="kw" d="M725 868.3 L764.9 840.1 L771.4 845.1 L776.5 848.1 C783.5 855.2 785 864.2 781.5 870.3 L750.3 890.4 L748.3 894.4 L746.3 902.5 L739.1 904.2 Z"/>
<path class="k" d="M735.2 867.2 L771.4 846.1 L776.5 848.1"/>
<path class="m" d="M738.2 869.3 L774.5 849.1 M739.4 870.9 L775.6 850.8 M740.6 872.6 L776.8 852.5 M741.7 874.3 L777.7 854.3"/>
<path class="k" d="M735.2 867.2 C743.3 877.3 748.3 889.4 748.3 894.4"/>
<path class="k" d="M740.2 873.3 C747.3 879.3 750.8 885.7 751.3 890.4"/>
<path class="k" d="M746.3 902.5 L764.4 889.4 C765.9 887.4 765.9 885.7 765.4 884.4"/>
<path class="kw" d="M659.4 825.3 L708 788.1 L751.6 821.1 L752.5 841.2 L724 860.5 L724.6 924 L696.1 940.7 L651.8 905 L646.8 871.4 L644.3 868.9 L640.1 860.5 L640.9 842.4 L645.9 838.7 Z"/>
<path class="k" d="M659.4 825.3 L700.1 858.9 L751.6 821.1"/>
<path class="k" d="M645.9 838.7 L688.7 871.4 L700.1 858.9"/>
<path class="k" d="M645.9 838.7 L646.8 871.4 M640.9 842.4 L644.8 845.8 L644.3 868.9"/>
<path class="k" d="M689.1 871.9 L690.1 897.4 L696.1 939.1"/>
<path class="k" d="M651.8 905 L696.1 940.7"/>
<path class="k" d="M670.1 924 L696.1 940.7" style="stroke-width:2.4"/>
<path class="k" d="M657.7 907.5 L657.7 899.1 C658.5 894.1 663.6 891.6 670.3 895.8 C680.3 904.2 687.9 922.6 691.1 935.7"/>
<path class="k" d="M666.1 894.1 C669.4 899.1 668.6 905.8 661 912.9 L657.7 907.5"/>
<path class="k" d="M702.8 890.4 L718.8 880.3 L723.8 882 M702.8 890.4 L703.7 930.7 L696.1 939.1"/>
<path class="m" d="M706.2 892.1 L718.8 884.5 M706.2 892.1 L707 927.3 L724.6 917.6"/>
<path class="kw" d="M710.4 898.8 L722.1 890.4 C729 889.1 732.3 897.4 730.5 905.5 L717.1 914.7 Z"/>
<ellipse class="kw" cx="712.9" cy="907.2" rx="5.5" ry="8.7" transform="rotate(-12 712.9 907.2)"/>
<ellipse class="m" cx="712.9" cy="907.2" rx="3.4" ry="6" transform="rotate(-12 712.9 907.2)"/>
<path class="k" d="M722.1 887.4 C728.2 887.4 732.3 895.8 730.7 904.2"/>
<path class="kw" d="M723.8 870.3 L728.8 866.1 L733.9 867.8 C739.7 883.7 743.9 897.1 743.9 900.8 L743.9 947.4 L742.2 955.8 L733.9 965.1 L696.1 940.7 L724.6 924 Z"/>
<path class="k" d="M727.1 871.9 C733.9 883.7 738.1 897.1 738.9 904.2 L738.9 957.5 L733.9 965.1"/>
<path class="k" d="M733.9 867.8 C740.6 875.3 745.6 885.4 748.1 895.4"/>
<ellipse class="k" cx="729.2" cy="949.1" rx="2.9" ry="5" transform="rotate(-10 729.2 949.1)"/>
<path class="k" d="M743.9 918.9 C750.6 915.9 760.7 924.3 761.5 937.4 C760.9 943.6 754 948.6 743.9 954.5"/></g>
<ellipse cx="778.2" cy="821.1" rx="6.7" ry="15" transform="rotate(-12 778.2 821.1)" fill="#fff" stroke="#111" stroke-width="3.8"/>
<ellipse cx="778.5" cy="821.1" rx="2.6" ry="5.2" transform="rotate(-12 778.2 821.1)" fill="#333" stroke="#999" stroke-width="1.2"/>
<ellipse cx="797.5" cy="817.1" rx="6.7" ry="15" transform="rotate(-12 797.5 817.1)" fill="#fff" stroke="#111" stroke-width="3.8"/>
<ellipse cx="797.8" cy="817.1" rx="2.6" ry="5.2" transform="rotate(-12 797.5 817.1)" fill="#333" stroke="#999" stroke-width="1.2"/>
<g transform="translate(837.8 793.8)"><path d="M-4 -12.5 L3 -13 L8.5 -7 L9.5 4 L5 12 L-2 13.5 L-8 8 L-9 -4 Z" fill="#fff" stroke="#111" stroke-width="2.6" stroke-linejoin="round"/><ellipse cx="-1.5" cy="0.5" rx="5.5" ry="9.5" transform="rotate(-15 -1.5 0.5)" fill="#fff" stroke="#111" stroke-width="1.6"/><path d="M-3 -5.2 L-21.5 4.6 C-26 8 -25 16 -19.5 17.2 L1 7.2 Z" fill="#fff" stroke="#111" stroke-width="1.7" stroke-linejoin="round"/><ellipse cx="-21.5" cy="11" rx="3.7" ry="6.3" transform="rotate(-15 -21.5 11)" fill="#fff" stroke="#111" stroke-width="1.6"/></g>
<path class="m" d="M838.5 809 L831 823"/>
<path class="m" d="M786 835 L792.7 844 L800 833"/>
<ellipse cx="214.2" cy="993.4" rx="6.7" ry="15" transform="rotate(-12 214.2 993.4)" fill="#fff" stroke="#111" stroke-width="3.8"/>
<ellipse cx="214.5" cy="993.4" rx="2.6" ry="5.2" transform="rotate(-12 214.2 993.4)" fill="#333" stroke="#999" stroke-width="1.2"/>
<ellipse cx="233.5" cy="989.4" rx="6.7" ry="15" transform="rotate(-12 233.5 989.4)" fill="#fff" stroke="#111" stroke-width="3.8"/>
<ellipse cx="233.8" cy="989.4" rx="2.6" ry="5.2" transform="rotate(-12 233.5 989.4)" fill="#333" stroke="#999" stroke-width="1.2"/>
<g transform="translate(273.8 966.1)"><path d="M-4 -12.5 L3 -13 L8.5 -7 L9.5 4 L5 12 L-2 13.5 L-8 8 L-9 -4 Z" fill="#fff" stroke="#111" stroke-width="2.6" stroke-linejoin="round"/><ellipse cx="-1.5" cy="0.5" rx="5.5" ry="9.5" transform="rotate(-15 -1.5 0.5)" fill="#fff" stroke="#111" stroke-width="1.6"/><path d="M-3 -5.2 L-21.5 4.6 C-26 8 -25 16 -19.5 17.2 L1 7.2 Z" fill="#fff" stroke="#111" stroke-width="1.7" stroke-linejoin="round"/><ellipse cx="-21.5" cy="11" rx="3.7" ry="6.3" transform="rotate(-15 -21.5 11)" fill="#fff" stroke="#111" stroke-width="1.6"/></g>
<path class="m" d="M274.5 981.3 L267 995.3"/>
<path class="m" d="M222 1007.3 L228.7 1016.3 L236 1005.3"/>
<path class="t" d="M774.2 759.1 L727 797"/>
<path class="t" d="M853.9 852.6 L760.7 922.3"/>
<g transform="translate(799.1 739.8) rotate(142.2)"><path class="mw" d="M5 -3.5 L31.5 -3.5 L31.5 3.5 L5 3.5 Z"/><path d="M14.2 -3.5 L31.5 -3.5 L31.5 3.5 L14.2 3.5 Z" fill="#8c8c8c" stroke="#444" stroke-width="0.9"/><path d="M15.7 -2.7 L16.9 2.7" stroke="#e8e8e8" stroke-width="0.9" fill="none"/><path d="M18.7 -2.7 L19.9 2.7" stroke="#e8e8e8" stroke-width="0.9" fill="none"/><path d="M21.7 -2.7 L22.9 2.7" stroke="#e8e8e8" stroke-width="0.9" fill="none"/><path d="M24.7 -2.7 L25.9 2.7" stroke="#e8e8e8" stroke-width="0.9" fill="none"/><path d="M27.7 -2.7 L28.9 2.7" stroke="#e8e8e8" stroke-width="0.9" fill="none"/><ellipse class="kw" cx="4" cy="0" rx="3.3" ry="7.4"/><path class="kw" d="M3 -6.1 L0.5 -6.7 L-3.5 -3.3 L-4 3.3 L-0.5 6.7 L3 6.1 Z"/><ellipse class="m" cx="-0.5" cy="0" rx="2.7" ry="5.9"/></g>
<g transform="translate(879.7 834.8) rotate(145.4)"><path class="mw" d="M5 -3.5 L31.3 -3.5 L31.3 3.5 L5 3.5 Z"/><path d="M14.1 -3.5 L31.3 -3.5 L31.3 3.5 L14.1 3.5 Z" fill="#8c8c8c" stroke="#444" stroke-width="0.9"/><path d="M15.6 -2.7 L16.8 2.7" stroke="#e8e8e8" stroke-width="0.9" fill="none"/><path d="M18.6 -2.7 L19.8 2.7" stroke="#e8e8e8" stroke-width="0.9" fill="none"/><path d="M21.6 -2.7 L22.8 2.7" stroke="#e8e8e8" stroke-width="0.9" fill="none"/><path d="M24.6 -2.7 L25.8 2.7" stroke="#e8e8e8" stroke-width="0.9" fill="none"/><path d="M27.6 -2.7 L28.8 2.7" stroke="#e8e8e8" stroke-width="0.9" fill="none"/><ellipse class="kw" cx="4" cy="0" rx="3.3" ry="7.4"/><path class="kw" d="M3 -6.1 L0.5 -6.7 L-3.5 -3.3 L-4 3.3 L-0.5 6.7 L3 6.1 Z"/><ellipse class="m" cx="-0.5" cy="0" rx="2.7" ry="5.9"/></g>
<path class="k" d="M865.2 735.8 L805.6 741.4 M865.2 735.8 L878.9 827.6" style="stroke-width:1.3"/>
<path class="t" d="M46.1 1087.7 L97 1053"/>
<path class="t" d="M130 1177.4 L180 1142"/>
<g transform="translate(17.6 1107.8) rotate(-35.2)"><path class="mw" d="M6 -4.2 L34.9 -4.2 L34.9 4.2 L6 4.2 Z"/><path d="M15.7 -4.2 L34.9 -4.2 L34.9 4.2 L15.7 4.2 Z" fill="#8c8c8c" stroke="#444" stroke-width="0.9"/><path d="M17.2 -3.4 L18.4 3.4" stroke="#e8e8e8" stroke-width="0.9" fill="none"/><path d="M20.2 -3.4 L21.4 3.4" stroke="#e8e8e8" stroke-width="0.9" fill="none"/><path d="M23.2 -3.4 L24.4 3.4" stroke="#e8e8e8" stroke-width="0.9" fill="none"/><path d="M26.2 -3.4 L27.4 3.4" stroke="#e8e8e8" stroke-width="0.9" fill="none"/><path d="M29.2 -3.4 L30.4 3.4" stroke="#e8e8e8" stroke-width="0.9" fill="none"/><path d="M32.2 -3.4 L33.4 3.4" stroke="#e8e8e8" stroke-width="0.9" fill="none"/><ellipse class="kw" cx="5" cy="0" rx="3.9" ry="8.6"/><path class="kw" d="M4 -7.1 L0.5 -7.7 L-3.5 -3.9 L-4 3.9 L-0.5 7.7 L4 7.1 Z"/><ellipse class="m" cx="-0.5" cy="0" rx="3.1" ry="6.9"/></g>
<g transform="translate(102.3 1198.4) rotate(-37.2)"><path class="mw" d="M6 -4.2 L34.8 -4.2 L34.8 4.2 L6 4.2 Z"/><path d="M15.6 -4.2 L34.8 -4.2 L34.8 4.2 L15.6 4.2 Z" fill="#8c8c8c" stroke="#444" stroke-width="0.9"/><path d="M17.1 -3.4 L18.3 3.4" stroke="#e8e8e8" stroke-width="0.9" fill="none"/><path d="M20.1 -3.4 L21.3 3.4" stroke="#e8e8e8" stroke-width="0.9" fill="none"/><path d="M23.1 -3.4 L24.3 3.4" stroke="#e8e8e8" stroke-width="0.9" fill="none"/><path d="M26.1 -3.4 L27.3 3.4" stroke="#e8e8e8" stroke-width="0.9" fill="none"/><path d="M29.1 -3.4 L30.3 3.4" stroke="#e8e8e8" stroke-width="0.9" fill="none"/><path d="M32.1 -3.4 L33.3 3.4" stroke="#e8e8e8" stroke-width="0.9" fill="none"/><ellipse class="kw" cx="5" cy="0" rx="3.9" ry="8.6"/><path class="kw" d="M4 -7.1 L0.5 -7.7 L-3.5 -3.9 L-4 3.9 L-0.5 7.7 L4 7.1 Z"/><ellipse class="m" cx="-0.5" cy="0" rx="3.1" ry="6.9"/></g>
<path class="k" d="M18.5 1117 L23.5 1183.3 L95.6 1199.3"/>
<path class="k" d="M869.4 955.5 L839.4 975"/>
<path class="k" d="M794.5 986.2 L759.4 1024.8 M794.5 986.2 L818.5 1069.6" style="stroke-width:1.3"/>
<path class="k" d="M296.5 1131.4 L261.9 1169.4 M296.5 1131.4 L314.4 1225.3" style="stroke-width:1.3"/>
<path class="k" d="M186.9 1258.9 L210.4 1246.6"/>
<g transform="translate(0 0)"><path class="k" d="M723.6 1034.7 C723.6 1028.4 726.3 1025.4 729.9 1025.4 C734.4 1025.4 736.5 1029.3 737.1 1034.7 C737.6 1041 740.6 1043.6 744.2 1043.6 C748.7 1043.6 750.8 1040.1 751.4 1033.8 C751.9 1028.4 754.4 1025.4 757.6 1025.4 C761.6 1025.4 763.9 1029.3 763.9 1034.7 L764.8 1043.6 C765.7 1047.2 770.2 1048.6 774.6 1049.4 C779.1 1050.8 782.7 1055.3 783.1 1058.8 C783.1 1061.9 780 1061.9 778.8 1063 L777.7 1077.6 C776.4 1080.3 773.7 1081.2 771.1 1082.1 L760.3 1091.1 L728.1 1091.1 L716.5 1081.2 C712.9 1079.4 708.4 1079.8 707.9 1076.7 L707.2 1063.3 C706.1 1061.2 703.1 1061.2 703.6 1058 C704.8 1053.5 711.1 1049 716.5 1048.6 C721 1048.1 723.3 1046.3 723.6 1041.8 Z"/>
<ellipse class="m" cx="729.9" cy="1033.8" rx="2.5" ry="4.1"/>
<ellipse class="m" cx="757.3" cy="1033.8" rx="2.5" ry="4.1"/>
<path class="b" d="M731.7 1069.6 L756.7 1069.6 L756.7 1079.8 L731.7 1079.8 Z"/>
<text class="sw" transform="translate(744.2 1078) scale(0.8 1)" font-size="8" text-anchor="middle">EC902</text></g>
<g transform="translate(0 0)"><path class="k" d="M799.7 1069.6 L837.3 1069.6 L838.2 1079.4 C840.9 1080.9 843.2 1082.1 842.1 1085.7 C841.4 1087.5 839.1 1087.5 838.2 1088.7 L838.2 1108.1 C838.2 1112.5 834.6 1115.2 831 1117.4 L809.5 1117.4 C804.2 1115.2 798.8 1111.6 797.9 1107.2 L797.4 1088.4 C795.2 1087.5 793.1 1086.6 793.4 1083.9 C793.8 1081.2 797 1080.3 798.8 1079.1 Z"/>
<ellipse class="g" cx="807.8" cy="1095.5" rx="5.4" ry="6.8" style="stroke:#777;stroke-width:1.1"/>
<ellipse class="g" cx="828.3" cy="1095.5" rx="5.4" ry="6.8" style="stroke:#777;stroke-width:1.1"/>
<path class="b" d="M808.1 1102.7 L827.8 1102.7 L827.8 1111.3 L808.1 1111.3 Z"/>
<text class="sw" transform="translate(818 1110) scale(0.75 1)" font-size="6.5" text-anchor="middle">EC902</text></g>
<g transform="translate(-499.2 145.9)"><path class="k" d="M723.6 1034.7 C723.6 1028.4 726.3 1025.4 729.9 1025.4 C734.4 1025.4 736.5 1029.3 737.1 1034.7 C737.6 1041 740.6 1043.6 744.2 1043.6 C748.7 1043.6 750.8 1040.1 751.4 1033.8 C751.9 1028.4 754.4 1025.4 757.6 1025.4 C761.6 1025.4 763.9 1029.3 763.9 1034.7 L764.8 1043.6 C765.7 1047.2 770.2 1048.6 774.6 1049.4 C779.1 1050.8 782.7 1055.3 783.1 1058.8 C783.1 1061.9 780 1061.9 778.8 1063 L777.7 1077.6 C776.4 1080.3 773.7 1081.2 771.1 1082.1 L760.3 1091.1 L728.1 1091.1 L716.5 1081.2 C712.9 1079.4 708.4 1079.8 707.9 1076.7 L707.2 1063.3 C706.1 1061.2 703.1 1061.2 703.6 1058 C704.8 1053.5 711.1 1049 716.5 1048.6 C721 1048.1 723.3 1046.3 723.6 1041.8 Z"/>
<ellipse class="m" cx="729.9" cy="1033.8" rx="2.5" ry="4.1"/>
<ellipse class="m" cx="757.3" cy="1033.8" rx="2.5" ry="4.1"/>
<path class="b" d="M731.7 1069.6 L756.7 1069.6 L756.7 1079.8 L731.7 1079.8 Z"/>
<text class="sw" transform="translate(744.2 1078) scale(0.8 1)" font-size="8" text-anchor="middle">EC902</text></g>
<g transform="translate(-505.4 156)"><path class="k" d="M799.7 1069.6 L837.3 1069.6 L838.2 1079.4 C840.9 1080.9 843.2 1082.1 842.1 1085.7 C841.4 1087.5 839.1 1087.5 838.2 1088.7 L838.2 1108.1 C838.2 1112.5 834.6 1115.2 831 1117.4 L809.5 1117.4 C804.2 1115.2 798.8 1111.6 797.9 1107.2 L797.4 1088.4 C795.2 1087.5 793.1 1086.6 793.4 1083.9 C793.8 1081.2 797 1080.3 798.8 1079.1 Z"/>
<ellipse class="g" cx="807.8" cy="1095.5" rx="5.4" ry="6.8" style="stroke:#777;stroke-width:1.1"/>
<ellipse class="g" cx="828.3" cy="1095.5" rx="5.4" ry="6.8" style="stroke:#777;stroke-width:1.1"/>
<path class="b" d="M808.1 1102.7 L827.8 1102.7 L827.8 1111.3 L808.1 1111.3 Z"/>
<text class="sw" transform="translate(818 1110) scale(0.75 1)" font-size="6.5" text-anchor="middle">EC902</text></g>
</svg>
</body></html>
